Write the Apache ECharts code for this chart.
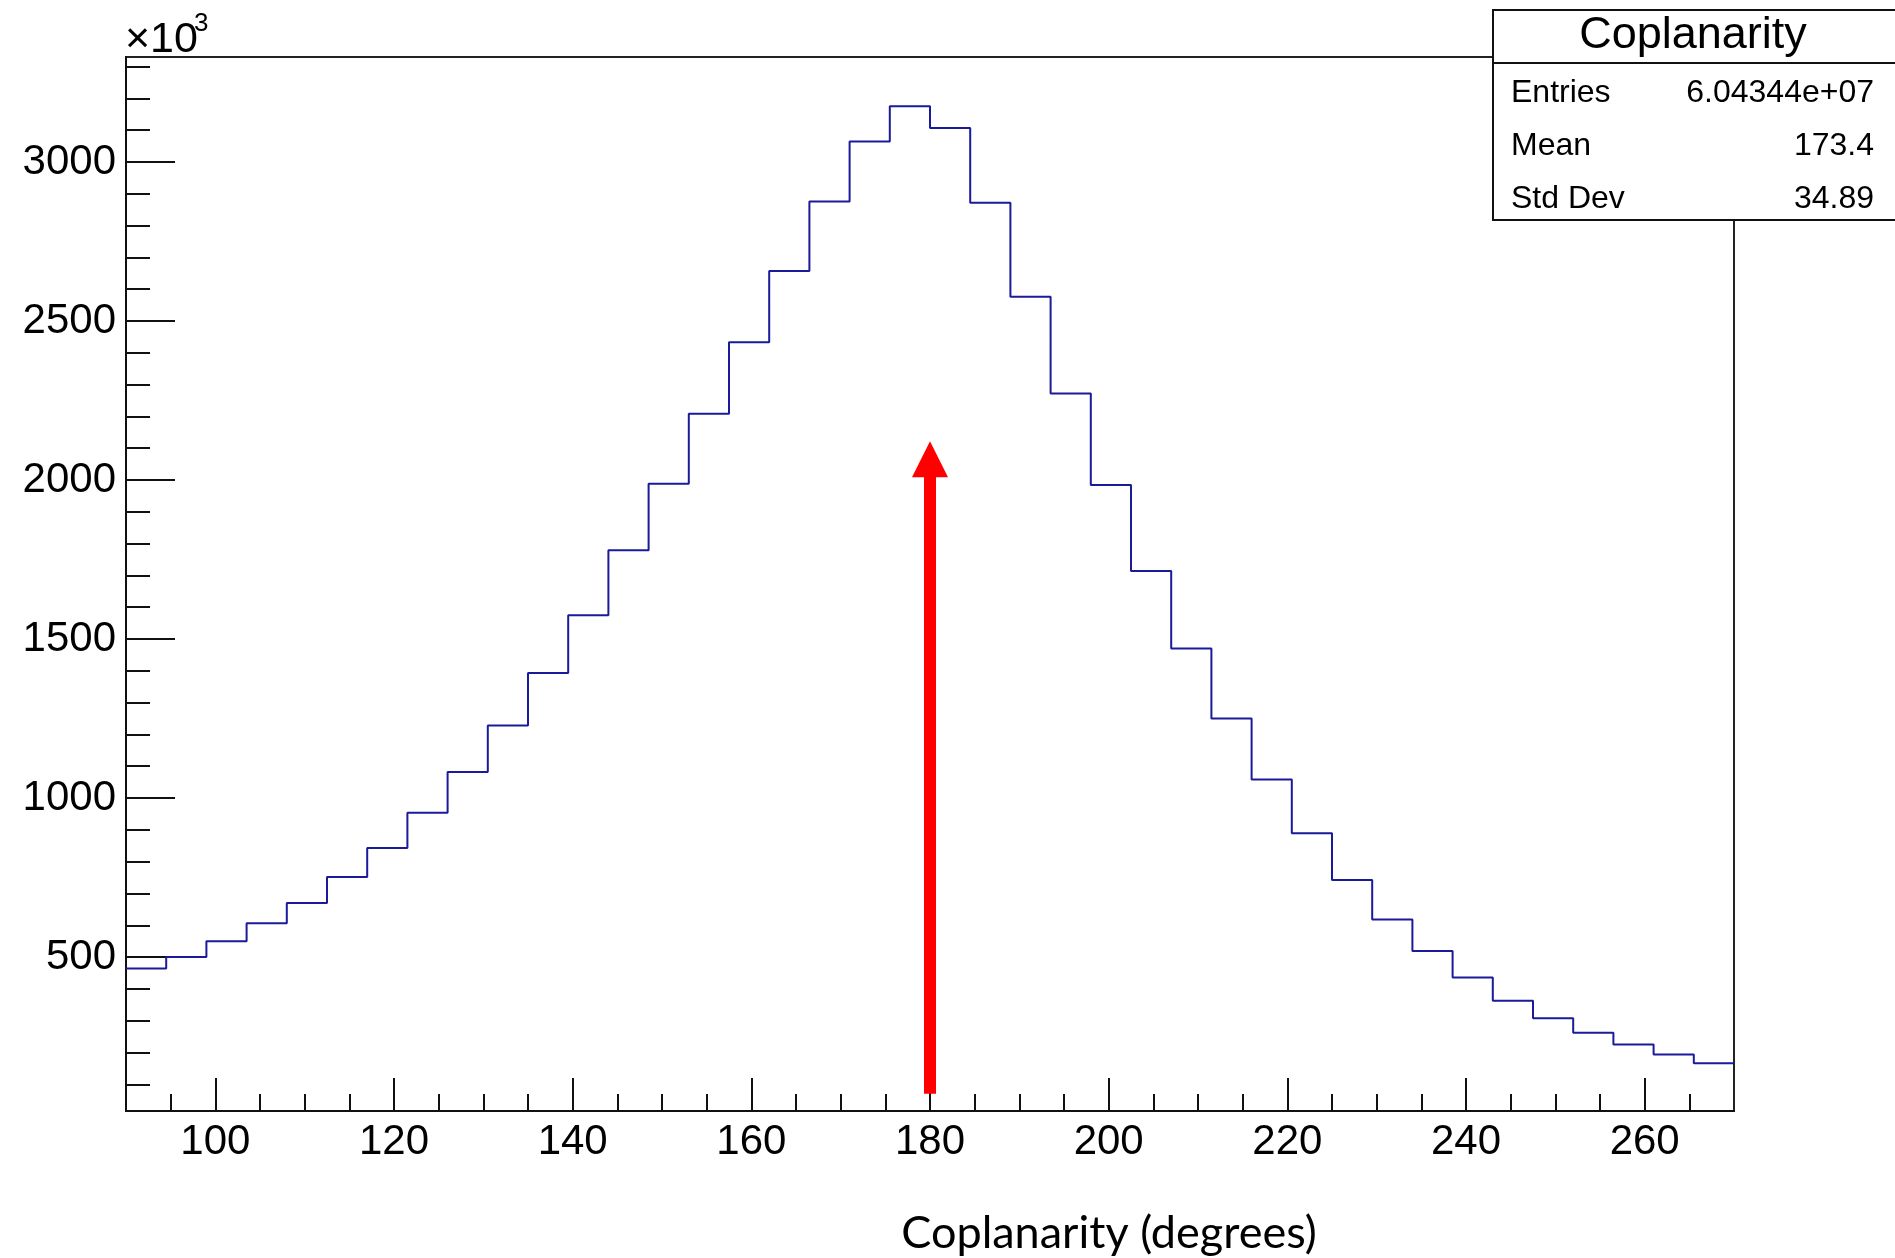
<!DOCTYPE html>
<html>
<head>
<meta charset="utf-8">
<script src="https://cdn.jsdelivr.net/npm/echarts@6/dist/echarts.min.js"></script>
<style>
html,body{margin:0;padding:0;background:#fff;}
#chart{width:1895px;height:1258px;}
</style>
</head>
<body>
<div id="chart"></div>
<script>
// ---- data (counts in units of 10^3) ----
const binLow = 90;
const binWidth = 4.5;
const counts = [464, 500, 550, 606, 670, 752, 843, 954, 1082, 1228,
                1393, 1575, 1779, 1988, 2208, 2433, 2657, 2876, 3064, 3175,
                3107, 2872, 2576, 2272, 1984, 1714, 1470, 1250, 1058, 889,
                742, 618, 519, 436, 363, 308, 262, 225, 194, 166];
const xMajorTicks = [100, 120, 140, 160, 180, 200, 220, 240, 260];
const xMinorTicks = [95, 100, 105, 110, 115, 120, 125, 130, 135, 140, 145, 150, 155, 160, 165, 170, 175, 180, 185, 190, 195, 200, 205, 210, 215, 220, 225, 230, 235, 240, 245, 250, 255, 260, 265];
const yMajorTicks = [500, 1000, 1500, 2000, 2500, 3000];
const yMinorTicks = [100, 200, 300, 400, 500, 600, 700, 800, 900, 1000, 1100, 1200, 1300, 1400, 1500, 1600, 1700, 1800, 1900, 2000, 2100, 2200, 2300, 2400, 2500, 2600, 2700, 2800, 2900, 3000, 3100, 3200, 3300];
const xRange = [90, 270];
const yRange = [16, 3330];
const arrowX = [180];
const arrowFrom = [70];
const arrowTo = [2122];
const statsTitle = 'Coplanarity';
const statsLabels = ['Entries', 'Mean', 'Std Dev'];
const statsValues = ['6.04344e+07', '173.4', '34.89'];
const xTitle = 'Coplanarity (degrees)';
const yScaleLabel = '\u00d710';
const yScaleExp = '3';

// ---- build ----
const histData = counts.map((v, i) => [binLow + i * binWidth, v]);
histData.push([binLow + counts.length * binWidth, counts[counts.length - 1]]);

const FONT = 'Liberation Sans, Arial, Helvetica, sans-serif';
const chart = echarts.init(document.getElementById('chart'), null, {renderer: 'canvas'});

const statsChildren = [
  {type: 'rect', shape: {x: 1493, y: 10, width: 404, height: 210},
   style: {fill: '#fff', stroke: '#111', lineWidth: 2}},
  {type: 'line', shape: {x1: 1493, y1: 63, x2: 1895, y2: 63},
   style: {stroke: '#111', lineWidth: 2}},
  {type: 'text', x: 1693, y: 36,
   style: {text: statsTitle, fontSize: 45, fontFamily: FONT, fill: '#000', align: 'center', verticalAlign: 'middle'}}
];
const rowY = [93, 146, 199];
statsLabels.forEach((t, i) => {
  statsChildren.push({type: 'text', x: 1511, y: rowY[i],
    style: {text: t, fontSize: 32, fontFamily: FONT, fill: '#000', align: 'left', verticalAlign: 'middle'}});
  statsChildren.push({type: 'text', x: 1874, y: rowY[i],
    style: {text: statsValues[i], fontSize: 32, fontFamily: FONT, fill: '#000', align: 'right', verticalAlign: 'middle'}});
});

const plain = v => String(v);

const option = {
  backgroundColor: '#fff',
  animation: false,
  grid: {left: 126, right: 161, top: 57, bottom: 147, show: true, borderColor: '#222', borderWidth: 2, backgroundColor: 'transparent', containLabel: false},
  xAxis: [
    {type: 'value', min: xRange[0], max: xRange[1], position: 'bottom',
     axisLine: {show: true, onZero: false, lineStyle: {color: '#111', width: 2}},
     axisTick: {show: true, inside: true, length: 33, customValues: xMajorTicks, lineStyle: {color: '#111', width: 2}},
     axisLabel: {show: true, customValues: xMajorTicks, formatter: plain, margin: 10, fontSize: 42, fontFamily: FONT, color: '#000'},
     splitLine: {show: false}},
    {type: 'value', min: xRange[0], max: xRange[1], position: 'bottom',
     axisLine: {show: false, onZero: false},
     axisTick: {show: true, inside: true, length: 17, customValues: xMinorTicks, lineStyle: {color: '#111', width: 2}},
     axisLabel: {show: false},
     splitLine: {show: false}}
  ],
  yAxis: [
    {type: 'value', min: yRange[0], max: yRange[1], position: 'left',
     axisLine: {show: true, onZero: false, lineStyle: {color: '#111', width: 2}},
     axisTick: {show: true, inside: true, length: 49, customValues: yMajorTicks, lineStyle: {color: '#111', width: 2}},
     axisLabel: {show: true, customValues: yMajorTicks, formatter: plain, margin: 10, fontSize: 42, fontFamily: FONT, color: '#000'},
     splitLine: {show: false}},
    {type: 'value', min: yRange[0], max: yRange[1], position: 'left',
     axisLine: {show: false, onZero: false},
     axisTick: {show: true, inside: true, length: 24, customValues: yMinorTicks, lineStyle: {color: '#111', width: 2}},
     axisLabel: {show: false},
     splitLine: {show: false}}
  ],
  series: [
    {type: 'line', name: 'Coplanarity', xAxisIndex: 0, yAxisIndex: 0,
     data: histData, step: 'end', showSymbol: false, symbol: 'none',
     lineStyle: {color: '#1a1a9a', width: 2}, z: 3},
    {type: 'custom', xAxisIndex: 0, yAxisIndex: 0, z: 4,
     data: arrowX.map((x, i) => [x, arrowFrom[i], arrowTo[i]]),
     renderItem: function (params, api) {
       const base = api.coord([api.value(0), api.value(1)]);
       const tip = api.coord([api.value(0), api.value(2)]);
       const headLen = 36, headW = 36, shaftW = 12;
       return {type: 'group', children: [
         {type: 'rect', shape: {x: base[0] - shaftW / 2, y: tip[1] + headLen - 1, width: shaftW, height: base[1] - tip[1] - headLen + 1},
          style: {fill: '#ff0000'}},
         {type: 'polygon', shape: {points: [[tip[0], tip[1]], [tip[0] - headW / 2, tip[1] + headLen], [tip[0] + headW / 2, tip[1] + headLen]]},
          style: {fill: '#ff0000'}}
       ]};
     }}
  ],
  graphic: [
    {type: 'group', z: 100, children: statsChildren},
    {type: 'text', x: 125, y: 40, z: 100,
     style: {text: yScaleLabel, fontSize: 43, fontFamily: FONT, fill: '#000', align: 'left', verticalAlign: 'middle'}},
    {type: 'text', x: 194, y: 24, z: 100,
     style: {text: yScaleExp, fontSize: 26, fontFamily: FONT, fill: '#000', align: 'left', verticalAlign: 'middle'}},
    {type: 'text', x: 1109, y: 1233, z: 100,
     style: {text: xTitle, fontSize: 45, fontFamily: 'Lato, Open Sans, sans-serif', fill: '#000', align: 'center', verticalAlign: 'middle'}}
  ]
};
chart.setOption(option);
</script>
</body>
</html>
